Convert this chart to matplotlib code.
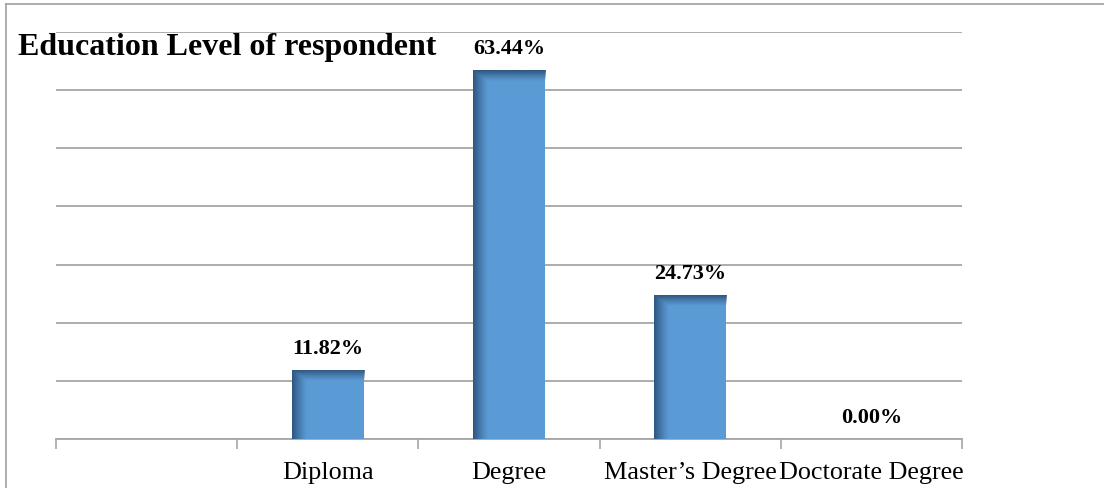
import numpy as np
import matplotlib
matplotlib.use("Agg")
import matplotlib.pyplot as plt
from matplotlib.lines import Line2D

categories = ["", "Diploma", "Degree", "Master\u2019s Degree", "Doctorate Degree"]
values = [np.nan, 11.82, 63.44, 24.73, 0.00]
labels = ["", "11.82%", "63.44%", "24.73%", "0.00%"]
title = "Education Level of respondent"

W, H = 1104, 489
fig = plt.figure(figsize=(W / 100, H / 100), dpi=100)
ax = fig.add_axes([56 / W, (H - 440) / H, (962 - 56) / W, (440 - 33) / H])

serif = ["Liberation Serif", "DejaVu Serif"]
base = np.array([0x5B, 0x9B, 0xD5]) / 255.0
dark = np.array([0x2A, 0x50, 0x78]) / 255.0

x = np.arange(len(categories))
vals = np.nan_to_num(values, nan=0.0)
bars = ax.bar(x, vals, width=0.4, color=base, zorder=3, linewidth=0)

# gradient shading on left and top edges of each bar
for b, v in zip(bars, values):
    if not np.isfinite(v) or v <= 0:
        continue
    x0, y0 = b.get_x(), b.get_y()
    w, h = b.get_width(), b.get_height()
    nx, ny = 80, 300
    px_w = 72.0
    px_h = h * 5.81
    xs = np.linspace(0, px_w, nx)
    ys = np.linspace(0, px_h, ny)
    fx = np.clip(1 - xs / 15.0, 0, 1) ** 1.2
    fy = np.clip(1 - ys / 11.0, 0, 1) ** 1.2
    A = np.maximum(fx[None, :], fy[:, None])
    img = np.zeros((ny, nx, 4))
    img[..., :3] = dark
    img[..., 3] = A * 0.9
    ax.imshow(img, extent=(x0, x0 + w, y0, y0 + h), origin="upper",
              aspect="auto", zorder=4, interpolation="bilinear")

for xi, v, lab in zip(x, values, labels):
    if not lab:
        continue
    ax.annotate(lab, (xi, v), xytext=(0, 16), textcoords="offset points",
                ha="center", va="center", fontsize=16, fontweight="bold",
                family=serif, zorder=5)

ax.set_xlim(-0.5, len(categories) - 0.5)
ax.set_ylim(0, 70)
ax.set_yticks(np.arange(0, 71, 10))
ax.yaxis.grid(True, color="#A6A6A6", linewidth=1.3, zorder=0)
ax.tick_params(axis="y", left=False, labelleft=False)
ax.set_xticks(np.arange(-0.5, len(categories)), minor=False)
ax.set_xticklabels([])
ax.set_xticks(x, minor=True)
ax.set_xticklabels(categories, minor=True, fontsize=18.8, family=serif)
ax.tick_params(axis="x", which="major", direction="out", length=7,
               color="#A6A6A6", width=1.2)
ax.tick_params(axis="x", which="minor", length=0, pad=16)
for s in ["left", "right", "top"]:
    ax.spines[s].set_visible(False)
ax.spines["bottom"].set_color("#A6A6A6")
ax.spines["bottom"].set_linewidth(1.3)
ax.set_axisbelow(True)

fig.text(18 / W, (H - 47) / H, title, ha="left", va="center", fontsize=23,
         fontweight="bold", family=serif)

# outer frame lines (top and left)
fig.add_artist(Line2D([6 / W, 1], [1 - 5 / H, 1 - 5 / H], color="#A0A0A0",
                      linewidth=1.2, transform=fig.transFigure))
fig.add_artist(Line2D([6 / W, 6 / W], [0, 1 - 5 / H], color="#A0A0A0",
                      linewidth=1.2, transform=fig.transFigure))

fig.savefig("out.png", dpi=100)
